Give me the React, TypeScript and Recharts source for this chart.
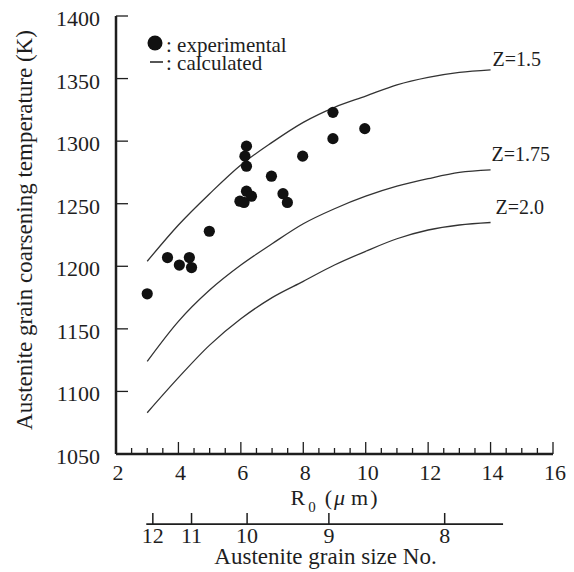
import {
  ComposedChart,
  Legend,
  Line,
  ReferenceLine,
  Scatter,
  XAxis,
  YAxis,
} from "recharts";

// calculated curves
const R0 = [3, 4, 5, 6, 7, 8, 9, 10, 11, 12, 13, 14];
const Z15 = [1204, 1233, 1258, 1281, 1299, 1315, 1327, 1336, 1345, 1351, 1355, 1357];
const Z175 = [1124, 1156, 1181, 1201, 1218, 1234, 1246, 1256, 1264, 1270, 1275, 1277];
const Z20 = [1083, 1111, 1137, 1158, 1175, 1188, 1201, 1212, 1222, 1229, 1233, 1235];

// experimental points
const EXP_R0 = [3.0, 3.65, 4.03, 4.35, 4.42, 4.99, 5.97, 6.1, 6.18, 6.34, 6.13, 6.18, 6.18, 6.98, 7.35, 7.49, 7.98, 8.95, 8.95, 9.97];
const EXP_TEMP = [1178, 1207, 1201, 1207, 1199, 1228, 1252, 1251, 1260, 1256, 1288, 1296, 1280, 1272, 1258, 1251, 1288, 1323, 1302, 1310];

const R0_TICKS = [2, 2.5, 3, 3.5, 4, 4.5, 5, 5.5, 6, 6.5, 7, 7.5, 8, 8.5, 9, 9.5, 10, 10.5, 11, 11.5, 12, 12.5, 13, 13.5, 14, 14.5, 15, 15.5, 16];
const TEMP_TICKS = [1050, 1100, 1150, 1200, 1250, 1300, 1350, 1400];

// secondary scale: grain size number vs R0
const GRAIN_NO = [12, 11, 10, 9, 8];
const GRAIN_AT_R0 = [3.18, 4.42, 6.2, 8.82, 12.53];
const GRAIN_LINE_R0 = [2.97, 14.4];
const GRAIN_LINE_TEMP = 994;

const curveData = R0.map((r0, i) => ({
  r0,
  z15: Z15[i],
  z175: Z175[i],
  z20: Z20[i],
}));
const expData = EXP_R0.map((r0, i) => ({ r0, temp: EXP_TEMP[i] }));

const FONT = "Liberation Serif, Times New Roman, serif";
const INK = "#1e1e1e";
const txt = { fontFamily: FONT, fill: INK };

const curves = [
  { key: "z15", name: "Z=1.5", dx: 2, dy: -4 },
  { key: "z175", name: "Z=1.75", dx: 1, dy: -9 },
  { key: "z20", name: "Z=2.0", dx: 5, dy: -8 },
];

function R0Tick({ x, y, payload }: any) {
  const major = payload.value % 2 === 0;
  return (
    <g>
      <line x1={x} y1={y} x2={x} y2={y - (major ? 12 : 6)} stroke={INK} strokeWidth={1.3} />
      {major && (
        <text x={x + 2} y={y + 26} textAnchor="middle" fontSize={22} style={txt}>
          {payload.value}
        </text>
      )}
    </g>
  );
}

function TempTick({ x, y, payload }: any) {
  return (
    <g>
      <line x1={x} y1={y} x2={x + 12} y2={y} stroke={INK} strokeWidth={1.3} />
      <text x={x - 16} y={y + 10} textAnchor="end" fontSize={22} style={txt}>
        {payload.value}
      </text>
    </g>
  );
}

function GrainTick({ x, y, payload }: any) {
  const i = GRAIN_AT_R0.indexOf(payload.value);
  return (
    <g>
      <line x1={x} y1={y} x2={x} y2={y + 11} stroke={INK} strokeWidth={1.5} />
      <text x={x} y={y + 30} textAnchor="middle" fontSize={22} style={txt}>
        {GRAIN_NO[i]}
      </text>
    </g>
  );
}

function R0Label({ viewBox }: any) {
  const x0 = viewBox.x + viewBox.width / 2 - 44;
  return (
    <text x={x0} y={viewBox.y + 51} fontSize={22} style={txt}>
      R
      <tspan fontSize={15} dx={3} dy={7}>0</tspan>
      <tspan dx={9} dy={-7}>(</tspan>
      <tspan dx={2} fontStyle="italic">{"\u03bc"}</tspan>
      <tspan dx={6}>m</tspan>
      <tspan dx={2}>)</tspan>
    </text>
  );
}

function GrainLabel({ viewBox }: any) {
  const cx = viewBox.x + viewBox.width / 2 - 9;
  return (
    <text x={cx} y={viewBox.y + 51} textAnchor="middle" fontSize={23} style={txt}>
      Austenite grain size No.
    </text>
  );
}

function TempLabel({ viewBox }: any) {
  const cy = viewBox.y + viewBox.height / 2 - 5;
  return (
    <text
      x={24}
      y={cy}
      transform={`rotate(-90, 24, ${cy})`}
      textAnchor="middle"
      fontSize={23}
      style={txt}
    >
      Austenite grain coarsening temperature (K)
    </text>
  );
}

function endLabel(text: string, dx: number, dy: number) {
  return (props: any) =>
    props.index === R0.length - 1 ? (
      <text x={props.x + dx} y={props.y + dy} fontSize={20} style={txt}>
        {text}
      </text>
    ) : (
      <g />
    );
}

function LegendBox() {
  return (
    <svg width={170} height={50} style={{ overflow: "visible" }}>
      <circle cx={15} cy={15} r={7.5} fill="#111" />
      <text x={26} y={24} fontSize={21} style={txt}>
        : experimental
      </text>
      <line x1={10} y1={34} x2={23} y2={34} stroke={INK} strokeWidth={1.5} />
      <text x={26} y={42} fontSize={21} style={txt}>
        : calculated
      </text>
    </svg>
  );
}

export default function App() {
  return (
    <div style={{ fontFamily: FONT }}>
      <ComposedChart
        width={566}
        height={564}
        data={curveData}
        margin={{ top: 8, right: 21, bottom: 0, left: 0 }}
      >
        <XAxis
          dataKey="r0"
          type="number"
          domain={[2, 16]}
          ticks={R0_TICKS}
          interval={0}
          height={59}
          tickSize={0}
          tickMargin={0}
          tickLine={false}
          tick={<R0Tick />}
          axisLine={{ stroke: INK, strokeWidth: 2.5 }}
          label={<R0Label />}
        />
        <XAxis
          xAxisId="grain"
          dataKey="r0"
          type="number"
          domain={[2, 16]}
          ticks={GRAIN_AT_R0}
          interval={0}
          height={59}
          tickSize={0}
          tickMargin={0}
          tickLine={false}
          axisLine={false}
          tick={<GrainTick />}
          label={<GrainLabel />}
        />
        <XAxis
          xAxisId="top"
          orientation="top"
          dataKey="r0"
          type="number"
          domain={[2, 16]}
          height={0}
          tick={false}
          tickLine={false}
          axisLine={{ stroke: INK, strokeWidth: 2.5 }}
        />
        <YAxis
          type="number"
          domain={[1050, 1400]}
          ticks={TEMP_TICKS}
          interval={0}
          width={108}
          tickSize={0}
          tickMargin={0}
          tickLine={false}
          tick={<TempTick />}
          axisLine={{ stroke: INK, strokeWidth: 2.5 }}
          label={<TempLabel />}
        />
        <YAxis
          yAxisId="right"
          orientation="right"
          type="number"
          domain={[1050, 1400]}
          width={0}
          tick={false}
          tickLine={false}
          axisLine={{ stroke: INK, strokeWidth: 2.5 }}
        />
        <Legend
          layout="vertical"
          align="center"
          verticalAlign="middle"
          wrapperStyle={{ top: 20, left: 132, width: 170, height: 50 }}
          content={() => <LegendBox />}
        />
        <ReferenceLine
          segment={[
            { x: GRAIN_LINE_R0[0], y: GRAIN_LINE_TEMP },
            { x: GRAIN_LINE_R0[1], y: GRAIN_LINE_TEMP },
          ]}
          ifOverflow="visible"
          stroke={INK}
          strokeWidth={1.6}
        />
        {curves.map((c) => (
          <Line
            key={c.key}
            dataKey={c.key}
            type="monotone"
            stroke="#333"
            strokeWidth={1.3}
            dot={false}
            activeDot={false}
            isAnimationActive={false}
            label={endLabel(c.name, c.dx, c.dy)}
          />
        ))}
        <Scatter
          data={expData}
          dataKey="temp"
          fill="#111"
          isAnimationActive={false}
          shape={(p: any) => <circle cx={p.cx} cy={p.cy} r={5.6} fill="#111" />}
        />
      </ComposedChart>
    </div>
  );
}
